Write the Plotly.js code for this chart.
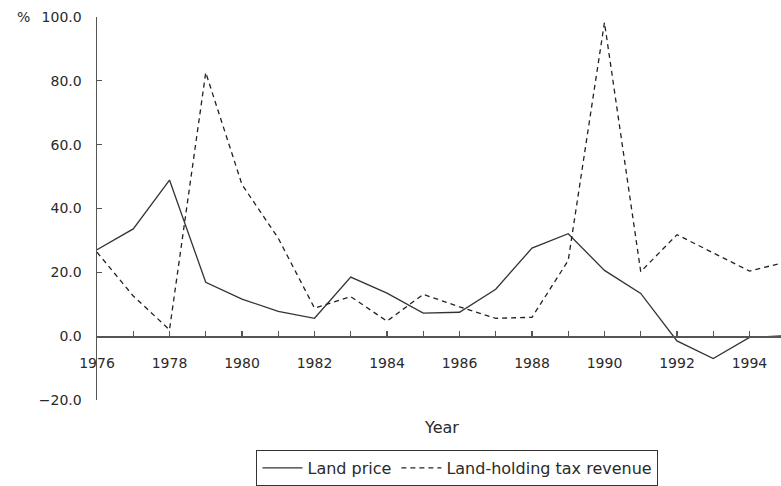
<!DOCTYPE html>
<html>
<head>
<meta charset="utf-8">
<script src="https://cdn.plot.ly/plotly-3.0.1.min.js"></script>
<style>html,body{margin:0;padding:0;background:#fff;}#chart{width:781px;height:486px;}</style>
</head>
<body>
<div id="chart"></div>
<script>
const years = [1976,1977,1978,1979,1980,1981,1982,1983,1984,1985,1986,1987,1988,1989,1990,1991,1992,1993,1994,1995];
const landPrice = [27.1,33.6,48.9,16.9,11.6,7.8,5.6,18.5,13.5,7.2,7.5,14.7,27.6,32.1,20.6,13.4,-1.5,-7.0,-0.4,0.2];
const taxRevenue = [26.3,12.6,2.0,82.6,47.5,30.7,8.8,12.4,4.7,13.1,9.2,5.6,5.9,23.7,98.3,20.2,31.8,26.1,20.4,23.2];
const seriesNames = ["Land price","Land-holding tax revenue"];
const xTickVals = years;
const xTickText = years.map(y => (y % 2 === 0 ? String(y) : ""));
const yTickVals = [-20,0,20,40,60,80,100];

const font = "DejaVu Sans, sans-serif";
const textColor = "#2a2a2a";
const axisColor = "#555";

const traces = [
  {x: years, y: landPrice, name: seriesNames[0], type: "scatter", mode: "lines",
   line: {color: "#333", width: 1.3}},
  {x: years, y: taxRevenue, name: seriesNames[1], type: "scatter", mode: "lines",
   line: {color: "#222", width: 1.3, dash: "5px,4px"}}
];

const layout = {
  width: 781, height: 486,
  margin: {l: 97, r: 0, t: 17, b: 82},
  paper_bgcolor: "#fff", plot_bgcolor: "#fff",
  font: {family: font, size: 14, color: textColor},
  showlegend: true,
  legend: {
    orientation: "h", x: 0.527, xanchor: "center", y: -0.132, yanchor: "top",
    bordercolor: "#333", borderwidth: 1, font: {family: font, size: 16, color: textColor},
    bgcolor: "#fff", itemwidth: 40, tracegroupgap: 0
  },
  xaxis: {
    range: [1976, 1994.87], tickvals: xTickVals, ticktext: xTickText,
    ticks: "inside", ticklen: 5, tickcolor: axisColor, tickwidth: 1.2,
    showline: true, linecolor: axisColor, linewidth: 1.5,
    showgrid: false, zeroline: false,
    anchor: "free", position: 1/6,
    ticklabelstandoff: 14,
    tickfont: {family: font, size: 14, color: textColor}
  },
  yaxis: {
    range: [-20, 100], tickvals: yTickVals, tickformat: ".1f",
    ticks: "inside", ticklen: 5, tickcolor: axisColor, tickwidth: 1.2,
    showline: true, linecolor: axisColor, linewidth: 1.5,
    showgrid: false, zeroline: false,
    ticklabelstandoff: 11,
    tickfont: {family: font, size: 14, color: textColor}
  },
  annotations: [
    {text: "%", xref: "paper", yref: "paper", x: -0.108, y: 1, xanchor: "center", yanchor: "middle",
     showarrow: false, font: {family: font, size: 14, color: textColor}},
    {text: "Year", xref: "paper", yref: "paper", x: 0.503, y: -0.071, xanchor: "center", yanchor: "middle",
     showarrow: false, font: {family: font, size: 16, color: textColor}}
  ]
};

Plotly.newPlot("chart", traces, layout, {displayModeBar: false, staticPlot: true});
</script>
</body>
</html>
